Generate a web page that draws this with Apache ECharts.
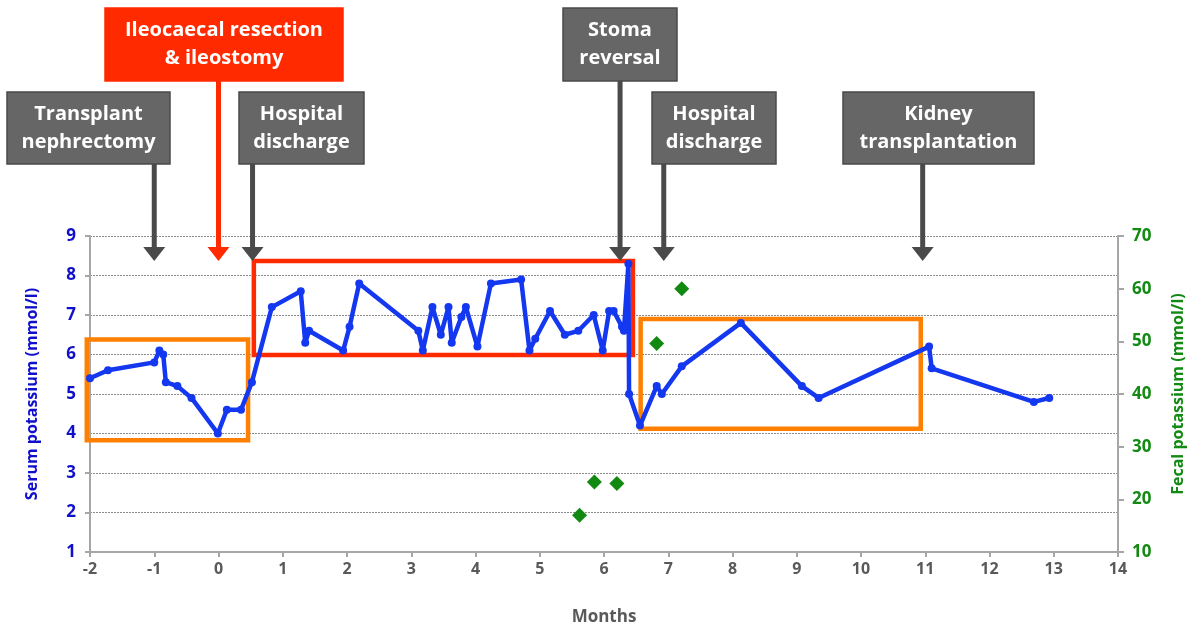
<!DOCTYPE html>
<html><head><meta charset="utf-8">
<script src="https://cdn.jsdelivr.net/npm/echarts@6/dist/echarts.min.js"></script>
<style>html,body{margin:0;padding:0;background:#fff}#c{width:1200px;height:639px}</style>
</head><body><div id="c"></div>
<script>
// ---- data ----
const serumMonths = [-2.0,-1.72,-1.0,-0.92,-0.86,-0.82,-0.64,-0.42,-0.01,0.13,0.35,0.52,0.83,1.28,1.35,1.41,1.94,2.04,2.19,3.11,3.18,3.33,3.46,3.58,3.63,3.78,3.85,4.03,4.24,4.71,4.84,4.93,5.16,5.39,5.60,5.84,5.98,6.08,6.15,6.28,6.31,6.38,6.39,6.56,6.82,6.90,7.21,8.13,9.08,9.34,11.06,11.10,12.69,12.93];
const serumK = [5.4,5.6,5.8,6.1,6.0,5.3,5.2,4.9,4.0,4.6,4.6,5.3,7.2,7.6,6.3,6.6,6.1,6.7,7.8,6.6,6.1,7.2,6.5,7.2,6.3,6.95,7.2,6.2,7.8,7.9,6.1,6.4,7.1,6.5,6.6,7.0,6.1,7.1,7.1,6.7,6.6,8.3,5.0,4.2,5.2,5.0,5.7,6.8,5.2,4.9,6.2,5.65,4.8,4.9];
const fecalMonths = [5.62,5.85,6.20,6.82,7.21];
const fecalK = [17.0,23.3,23.0,49.6,60.0];
// highlighted periods: [monthStart, monthEnd, serumLow, serumHigh]
const periodMonthStart = [-2.05, 0.55, 6.57];
const periodMonthEnd = [0.46, 6.45, 10.93];
const periodLow = [3.83, 5.99, 4.12];
const periodHigh = [6.38, 8.37, 6.90];
const eventLabels = ['Transplant\nnephrectomy','Ileocaecal resection\n& ileostomy','Hospital\ndischarge','Stoma\nreversal','Hospital\ndischarge','Kidney\ntransplantation'];
const eventMonths = [-1, 0, 0.53, 6.25, 6.93, 10.96];
const xName = 'Months';
const yLeftName = 'Serum potassium (mmol/l)';
const yRightName = 'Fecal potassium (mmol/l)';

// ---- styles / layout ----
const periodColors = ['#ff8000', '#ff2a00', '#ff8000'];
const boxLayout = [[7,92,163,72],[105,8,238,73],[239,92,125,72],[563,8,114,73],[652,92,124,72],[843,92,191,72]];
const boxFill = ['#666666','#ff2a00','#666666','#666666','#666666','#666666'];
const boxBorder = ['#4a4a4a','#ff2a00','#4a4a4a','#4a4a4a','#4a4a4a','#4a4a4a'];
const arrowColor = ['#4a4a4a','#ff2a00','#4a4a4a','#4a4a4a','#4a4a4a','#4a4a4a'];
const FONT = '"Open Sans", sans-serif';
const BLUE = '#1010cc', GREEN = '#138a13', GRAY = '#595959', AX = '#a6a6a6';

const chart = echarts.init(document.getElementById('c'), null, {renderer:'canvas'});
const boxData = periodMonthStart.map((s,i)=>[s, periodMonthEnd[i], periodLow[i], periodHigh[i], i]);

chart.setOption({
  animation: false,
  backgroundColor: '#fff',
  grid: {left: 90, right: 82, top: 236, bottom: 87, containLabel: false, outerBoundsMode: 'none'},
  xAxis: {
    type: 'value', min: -2, max: 14, interval: 1,
    name: xName, nameLocation: 'middle', nameGap: 57,
    nameTextStyle: {color: GRAY, fontFamily: FONT, fontWeight: 'bold', fontSize: 17},
    axisLine: {show: true, onZero: false, lineStyle: {color: AX, width: 2}},
    axisTick: {show: true, length: 5, lineStyle: {color: AX, width: 2}},
    axisLabel: {color: GRAY, fontFamily: FONT, fontWeight: 'bold', fontSize: 16, margin: 9, showMinLabel: true, showMaxLabel: true, hideOverlap: false},
    splitLine: {show: false}
  },
  yAxis: [{
    type: 'value', min: 1, max: 9, interval: 1, position: 'left',
    name: yLeftName, nameLocation: 'middle', nameGap: 50, nameRotate: 90,
    nameTextStyle: {color: BLUE, fontFamily: FONT, fontWeight: 'bold', fontSize: 16},
    axisLine: {show: true, onZero: false, lineStyle: {color: AX, width: 2}},
    axisTick: {show: true, length: 5, lineStyle: {color: AX, width: 2}},
    axisLabel: {color: BLUE, fontFamily: FONT, fontWeight: 'bold', fontSize: 17, margin: 14, showMinLabel: true, showMaxLabel: true},
    splitLine: {show: true, lineStyle: {color: '#8c8c8c', width: 1, type: [2, 1]}}
  }, {
    type: 'value', min: 10, max: 70, interval: 10, position: 'right',
    name: yRightName, nameLocation: 'middle', nameGap: 52, nameRotate: 90,
    nameTextStyle: {color: GREEN, fontFamily: FONT, fontWeight: 'bold', fontSize: 16},
    axisLine: {show: true, onZero: false, lineStyle: {color: AX, width: 2}},
    axisTick: {show: true, length: 6, lineStyle: {color: AX, width: 2}},
    axisLabel: {color: GREEN, fontFamily: FONT, fontWeight: 'bold', fontSize: 17, margin: 14, showMinLabel: true, showMaxLabel: true},
    splitLine: {show: false}
  }],
  series: [{
    type: 'custom', clip: false, z: 1,
    data: boxData,
    renderItem: function (params, api) {
      const p0 = api.coord([api.value(0), api.value(3)]);
      const p1 = api.coord([api.value(1), api.value(2)]);
      return {type: 'rect', shape: {x: p0[0], y: p0[1], width: p1[0]-p0[0], height: p1[1]-p0[1]},
        style: {fill: 'none', stroke: periodColors[api.value(4)], lineWidth: 4.5}};
    }
  }, {
    type: 'line', z: 3,
    data: serumMonths.map((m,i)=>[m, serumK[i]]),
    symbol: 'circle', symbolSize: 8, showSymbol: true,
    itemStyle: {color: '#1437f0'},
    lineStyle: {color: '#1437f0', width: 4.5}
  }, {
    type: 'scatter', yAxisIndex: 1, z: 4,
    data: fecalMonths.map((m,i)=>[m, fecalK[i]]),
    symbol: 'diamond', symbolSize: [15, 15],
    itemStyle: {color: '#128a12', opacity: 1}
  }]
});

const tipY = chart.convertToPixel({yAxisIndex: 0}, 9) + 25;
const graphics = [];
eventLabels.forEach((lab, i) => {
  const [l, t, w, h] = boxLayout[i];
  const ax = chart.convertToPixel({xAxisIndex: 0}, eventMonths[i]);
  graphics.push({type: 'line', shape: {x1: ax, y1: t + h, x2: ax, y2: tipY - 12}, style: {stroke: arrowColor[i], lineWidth: 5}, z: 10});
  graphics.push({type: 'polygon', shape: {points: [[ax-11, tipY-14],[ax+11, tipY-14],[ax, tipY]]}, style: {fill: arrowColor[i]}, z: 10});
  graphics.push({type: 'rect', shape: {x: l, y: t, width: w, height: h}, style: {fill: boxFill[i], stroke: boxBorder[i], lineWidth: 1.5}, z: 11});
  graphics.push({type: 'text', x: l + w/2, y: t + h/2, style: {text: lab, fill: '#fff', font: 'bold 20px ' + FONT, align: 'center', verticalAlign: 'middle', lineHeight: 28}, z: 12});
});
chart.setOption({graphic: graphics});
</script>
</body></html>
